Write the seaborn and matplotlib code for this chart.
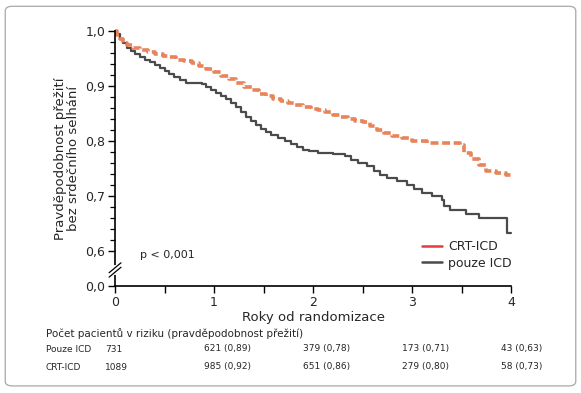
import matplotlib
matplotlib.use("Agg")
import matplotlib.pyplot as plt
import matplotlib.transforms as mtransforms
from matplotlib.lines import Line2D
from matplotlib.patches import FancyBboxPatch
import numpy as np
import pandas as pd
import seaborn as sns

# Kaplan-Meier curves (years, survival probability)
icd_t = [0.0, 0.02, 0.05, 0.08, 0.12, 0.16, 0.2, 0.25, 0.3, 0.35, 0.4, 0.45, 0.5, 0.55, 0.6,
         0.66, 0.72, 0.88, 0.92, 0.97, 1.02, 1.07, 1.12, 1.17, 1.22, 1.27, 1.32, 1.37, 1.42,
         1.47, 1.52, 1.58, 1.65, 1.72, 1.78, 1.84, 1.9, 1.96, 2.05, 2.2, 2.32, 2.38, 2.45,
         2.55, 2.62, 2.68, 2.75, 2.85, 2.95, 3.02, 3.1, 3.2, 3.3, 3.32, 3.38, 3.55, 3.68,
         3.96, 4.0]
icd_s = [1.0, 0.995, 0.985, 0.978, 0.970, 0.963, 0.958, 0.953, 0.948, 0.943, 0.939, 0.933,
         0.928, 0.922, 0.917, 0.911, 0.905, 0.903, 0.898, 0.893, 0.888, 0.882, 0.876, 0.870,
         0.862, 0.852, 0.843, 0.836, 0.829, 0.822, 0.816, 0.811, 0.805, 0.800, 0.795, 0.789,
         0.784, 0.781, 0.779, 0.777, 0.773, 0.765, 0.760, 0.754, 0.746, 0.738, 0.733, 0.727,
         0.720, 0.713, 0.706, 0.700, 0.692, 0.682, 0.674, 0.668, 0.660, 0.632, 0.632]
crt_t = [0.0, 0.02, 0.05, 0.08, 0.12, 0.18, 0.25, 0.33, 0.4, 0.48, 0.55, 0.62, 0.7, 0.78,
         0.85, 0.92, 1.0, 1.07, 1.15, 1.22, 1.3, 1.38, 1.45, 1.52, 1.6, 1.68, 1.75, 1.82,
         1.9, 1.98, 2.05, 2.12, 2.2, 2.28, 2.35, 2.42, 2.5, 2.58, 2.65, 2.72, 2.8, 2.9, 3.0,
         3.15, 3.3, 3.48, 3.52, 3.6, 3.68, 3.75, 3.85, 3.95, 4.0]
crt_s = [1.0, 0.993, 0.985, 0.979, 0.975, 0.970, 0.966, 0.962, 0.958, 0.955, 0.952, 0.948,
         0.945, 0.941, 0.937, 0.931, 0.925, 0.918, 0.912, 0.905, 0.898, 0.892, 0.886, 0.881,
         0.877, 0.873, 0.870, 0.866, 0.862, 0.859, 0.857, 0.852, 0.848, 0.844, 0.840, 0.837,
         0.834, 0.827, 0.820, 0.815, 0.810, 0.805, 0.800, 0.797, 0.796, 0.792, 0.778, 0.768,
         0.756, 0.745, 0.741, 0.738, 0.733]

groups = ["CRT-ICD", "pouze ICD"]
risk_years = [0, 1, 2, 3, 4]
risk_icd_n = [731, 621, 379, 173, 43]
risk_icd_p = [None, 0.89, 0.78, 0.71, 0.63]
risk_crt_n = [1089, 985, 651, 279, 58]
risk_crt_p = [None, 0.92, 0.86, 0.80, 0.73]

ORANGE = "#E8845A"
GREY = "#4B4B4D"
LEGEND_RED = "#E23B40"
Y_BOTTOM = 0.5364  # position where "0,0" sits below the axis break

sns.set_style("ticks")
plt.rcParams["font.family"] = ["DejaVu Sans"]

df = pd.concat([
    pd.DataFrame({"t": crt_t, "s": crt_s, "group": groups[0]}),
    pd.DataFrame({"t": icd_t, "s": icd_s, "group": groups[1]}),
])

fig = plt.figure(figsize=(5.81, 3.93), dpi=100)
fig.patches.append(FancyBboxPatch((0.009, 0.018), 0.982, 0.966, boxstyle="round,pad=0,rounding_size=0.012",
                                  transform=fig.transFigure, fc="none", ec="#A8A8A8", lw=0.9))
ax = fig.add_axes([0.198, 0.2723, 0.6816, 0.6488])

sns.lineplot(data=df[df.group == groups[1]], x="t", y="s", color=GREY, lw=1.6,
             drawstyle="steps-post", estimator=None, ax=ax, clip_on=False)
sns.lineplot(data=df[df.group == groups[0]], x="t", y="s", color=ORANGE, lw=2.6,
             drawstyle="steps-post", estimator=None, ax=ax, clip_on=False,
             dashes=False, linestyle=(0, (2.2, 1.0)))

ax.set_xlim(0, 4)
ax.set_ylim(Y_BOTTOM, 1.0)
ax.set_xticks(risk_years)
ax.set_xticklabels([str(v) for v in risk_years], fontsize=9)
ax.set_xticks([0.5, 1.5, 2.5, 3.5], minor=True)
yt = [Y_BOTTOM, 0.6, 0.7, 0.8, 0.9, 1.0]
ax.set_yticks(yt)
ax.set_yticklabels(["0,0", "0,6", "0,7", "0,8", "0,9", "1,0"], fontsize=9)
ax.set_yticks([v for v in np.arange(0.62, 0.99, 0.02) if abs(round(v * 10) - v * 10) > 1e-6], minor=True)
ax.tick_params(which="major", length=5, width=1.0, color="black", pad=2)
ax.tick_params(axis="y", which="minor", length=3.5, width=0.9, color="black")
ax.tick_params(axis="x", which="minor", length=5, width=1.0, color="black")
for side in ["top", "right"]:
    ax.spines[side].set_visible(False)
for side in ["left", "bottom"]:
    ax.spines[side].set_linewidth(1.2)
    ax.spines[side].set_color("black")

# axis break marks
yb = 0.5655
ax.plot([0, 0], [yb - 0.006, yb + 0.006], color="white", lw=3, clip_on=False, zorder=5)
for dy in (-0.004, 0.004):
    ax.plot([-0.06, 0.06], [yb + dy - 0.009, yb + dy + 0.009], color="black", lw=0.9,
            clip_on=False, zorder=6)

ax.set_xlabel("Roky od randomizace", fontsize=9.5, labelpad=2)
ax.set_ylabel("Pravděpodobnost přežití\nbez srdečního selhání", fontsize=9.5, labelpad=4, linespacing=1.0)
ax.text(0.25, 0.593, "p < 0,001", fontsize=8, va="center")

handles = [Line2D([], [], color=LEGEND_RED, lw=1.8), Line2D([], [], color=GREY, lw=1.8)]
ax.legend(handles, groups, loc="lower right", bbox_to_anchor=(1.03, 0.02), frameon=False,
          fontsize=9, handlelength=1.6, handletextpad=0.5, labelspacing=0.3)

# number at risk table
trans = mtransforms.blended_transform_factory(ax.transData, fig.transFigure)
fig.text(0.079, 1 - 334 / 393, "Počet pacientů v riziku (pravděpodobnost přežití)", fontsize=7.5, va="center")
for label, counts, probs, ypx in [("Pouze ICD", risk_icd_n, risk_icd_p, 349),
                                  ("CRT-ICD", risk_crt_n, risk_crt_p, 367)]:
    yf = 1 - ypx / 393
    fig.text(0.079, yf, label, fontsize=6.5, va="center")
    for yr, n, p in zip(risk_years, counts, probs):
        txt = str(n) if p is None else f"{n} ({p:.2f})".replace(".", ",")
        ax.text(yr - 0.1, yf, txt, transform=trans, fontsize=6.5, va="center", ha="left")

fig.savefig("out.png", dpi=100)
